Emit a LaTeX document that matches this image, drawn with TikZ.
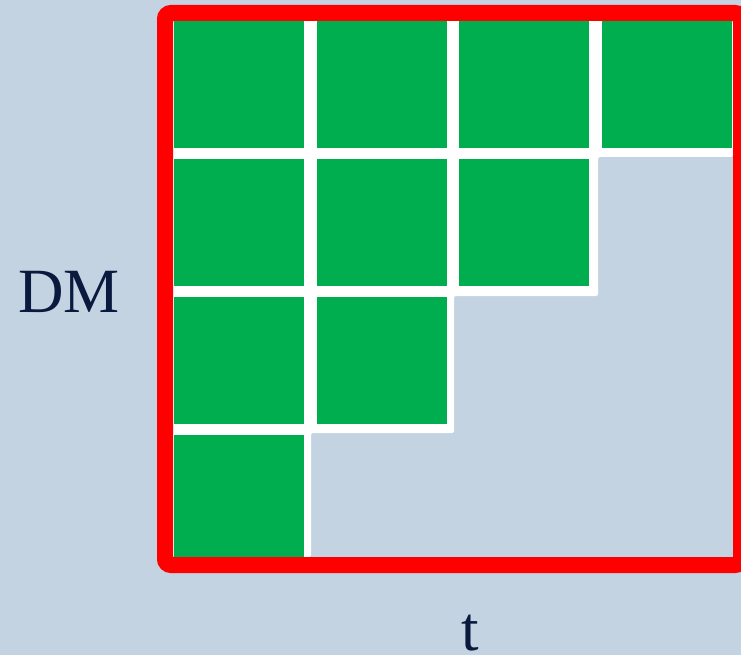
\documentclass[tikz,border=0pt]{standalone}
\usepackage{fontspec}
\setmainfont{Liberation Serif}
\definecolor{bgblue}{HTML}{C3D3E1}
\definecolor{cellgreen}{HTML}{00AD4F}
\definecolor{labelnavy}{HTML}{0A1A3F}
\tikzset{
  cell/.style={fill=cellgreen},
  axislabel/.style={text=labelnavy, font=\fontsize{63}{63}\selectfont, anchor=base, inner sep=0pt},
}
\begin{document}
\begin{tikzpicture}[x=1pt,y=-1pt]
\useasboundingbox (0,0) rectangle (741,655);
\fill[bgblue] (0,0) rectangle (741,655);
% white staircase under the cells
\fill[white,rounded corners=2pt] (173,21) -- (733,21) -- (733,157) -- (598,157) -- (598,296)
  -- (454,296) -- (454,433) -- (311,433) -- (311,557) -- (173,557) -- cycle;
% green cells, row by row
\foreach \r/\n in {0/4,1/3,2/2,3/1}
  \foreach \c in {1,...,\n}
    \fill[cell] ({174+142.7*(\c-1)},{21+138*\r}) rectangle ++(130,127);
% red frame
\draw[red,line width=16pt,rounded corners=6pt] (165,13) rectangle (741,565);
\node[axislabel] (dmlabel) at (69,312) {DM};
\node[axislabel] (tlabel) at (470,650) {t};
\end{tikzpicture}
\end{document}
